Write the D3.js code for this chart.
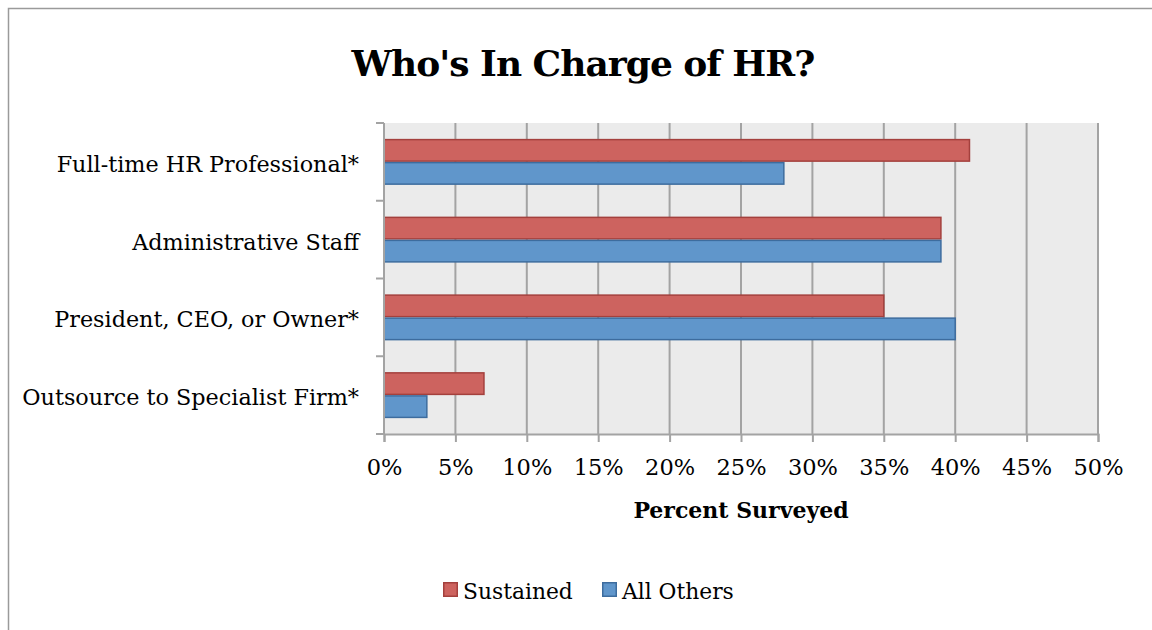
<!DOCTYPE html>
<html>
<head>
<meta charset="utf-8">
<script src="https://cdn.jsdelivr.net/npm/d3@7"></script>
<style>
  html, body { margin: 0; padding: 0; background: #fff; }
  svg { display: block; }
  text { font-family: "DejaVu Serif", "Liberation Serif", serif; fill: #000; }
</style>
</head>
<body>
<svg id="chart" width="1152" height="630"></svg>
<script>
// Survey responses: who runs HR, by group (percent)
const categories = ["Full-time HR Professional*", "Administrative Staff", "President, CEO, or Owner*", "Outsource to Specialist Firm*"];
const seriesNames = ["Sustained", "All Others"];
const sustained = [41, 39, 35, 7];
const allOthers = [28, 39, 40, 3];
const xTicks = [0, 5, 10, 15, 20, 25, 30, 35, 40, 45, 50];

const colors = { "Sustained": "#CD635F", "All Others": "#6096CB" };
const strokes = { "Sustained": "#A4403D", "All Others": "#3D6C9E" };

const svg = d3.select("#chart");
const plot = { left: 384, right: 1098, top: 123, bottom: 434 };

// Outer chart frame (runs off the right and bottom edge)
svg.append("rect")
  .attr("x", 8.5).attr("y", 8.5)
  .attr("width", 1160).attr("height", 640)
  .attr("fill", "#fff").attr("stroke", "#9a9a9a").attr("stroke-width", 1.5);

// Title
svg.append("text")
  .attr("x", 583).attr("y", 76)
  .attr("text-anchor", "middle")
  .style("font-size", "36px").style("font-weight", "bold")
  .style("letter-spacing", "-1px")
  .text("Who's In Charge of HR?");

const x = d3.scaleLinear().domain([0, 50]).range([plot.left, plot.right]);
const y = d3.scaleBand().domain(categories).range([plot.top, plot.bottom]).padding(0);
const bw = y.bandwidth();
const groupH = bw * 0.592;
const ySub = d3.scaleBand().domain(seriesNames).range([(bw - groupH) / 2, (bw + groupH) / 2]).padding(0);

// Plot background
svg.append("rect")
  .attr("x", plot.left).attr("y", plot.top)
  .attr("width", plot.right - plot.left).attr("height", plot.bottom - plot.top)
  .attr("fill", "#EBEBEB");

// Vertical gridlines
svg.append("g")
  .selectAll("line")
  .data(xTicks)
  .join("line")
  .attr("x1", d => x(d)).attr("x2", d => x(d))
  .attr("y1", plot.top).attr("y2", plot.bottom)
  .attr("stroke", "#A3A3A3").attr("stroke-width", 2);

// Bars
const rows = categories.map((c, i) => ({ cat: c, values: [
  { name: "Sustained", v: sustained[i] },
  { name: "All Others", v: allOthers[i] }
]}));

const groups = svg.append("g").selectAll("g")
  .data(rows).join("g")
  .attr("transform", d => `translate(0,${y(d.cat)})`);

groups.selectAll("rect")
  .data(d => d.values)
  .join("rect")
  .attr("x", x(0))
  .attr("y", d => ySub(d.name) + 0.75)
  .attr("width", d => x(d.v) - x(0))
  .attr("height", ySub.bandwidth() - 1.5)
  .attr("fill", d => colors[d.name])
  .attr("stroke", d => strokes[d.name])
  .attr("stroke-width", 1.5);

// Bottom axis
const xAxis = d3.axisBottom(x).tickValues(xTicks).tickFormat(d => d + "%").tickSize(8).tickPadding(17);
const gx = svg.append("g").attr("transform", `translate(0,${plot.bottom})`).call(xAxis);
gx.select(".domain").attr("stroke", "#A3A3A3").attr("stroke-width", 2);
gx.selectAll(".tick line").attr("stroke", "#A3A3A3").attr("stroke-width", 2);
gx.selectAll(".tick text").style("font-size", "22.5px").style("font-family", "\"DejaVu Serif\", serif").attr("fill", "#000");

// Left axis: ticks at category boundaries, labels centered in each band
const gy = svg.append("g");
gy.append("line")
  .attr("x1", plot.left).attr("x2", plot.left)
  .attr("y1", plot.top).attr("y2", plot.bottom)
  .attr("stroke", "#A3A3A3").attr("stroke-width", 2);
const boundaries = categories.map(c => y(c)).concat([plot.bottom]);
gy.selectAll("line.tk")
  .data(boundaries)
  .join("line").attr("class", "tk")
  .attr("x1", plot.left - 8).attr("x2", plot.left)
  .attr("y1", d => d).attr("y2", d => d)
  .attr("stroke", "#A3A3A3").attr("stroke-width", 2);
gy.selectAll("text")
  .data(categories)
  .join("text")
  .attr("x", 359)
  .attr("y", d => y(d) + bw / 2)
  .attr("dy", "0.45em")
  .attr("text-anchor", "end")
  .style("font-size", "22.3px")
  .text(d => d);

// Axis title
svg.append("text")
  .attr("x", (plot.left + plot.right) / 2).attr("y", 518)
  .attr("text-anchor", "middle")
  .style("font-size", "22px").style("font-weight", "bold")
  .text("Percent Surveyed");

// Legend
const legend = svg.append("g");
const legendItems = [
  { name: "Sustained", sx: 443, tx: 463 },
  { name: "All Others", sx: 602, tx: 622 }
];
legend.selectAll("rect")
  .data(legendItems).join("rect")
  .attr("x", d => d.sx + 0.75).attr("y", 582.75)
  .attr("width", 13.5).attr("height", 13.5)
  .attr("fill", d => colors[d.name]).attr("stroke", d => strokes[d.name]).attr("stroke-width", 1.5);
legend.selectAll("text")
  .data(legendItems).join("text")
  .attr("x", d => d.tx).attr("y", 599)
  .style("font-size", "21.8px")
  .text(d => d.name);
</script>
</body>
</html>
